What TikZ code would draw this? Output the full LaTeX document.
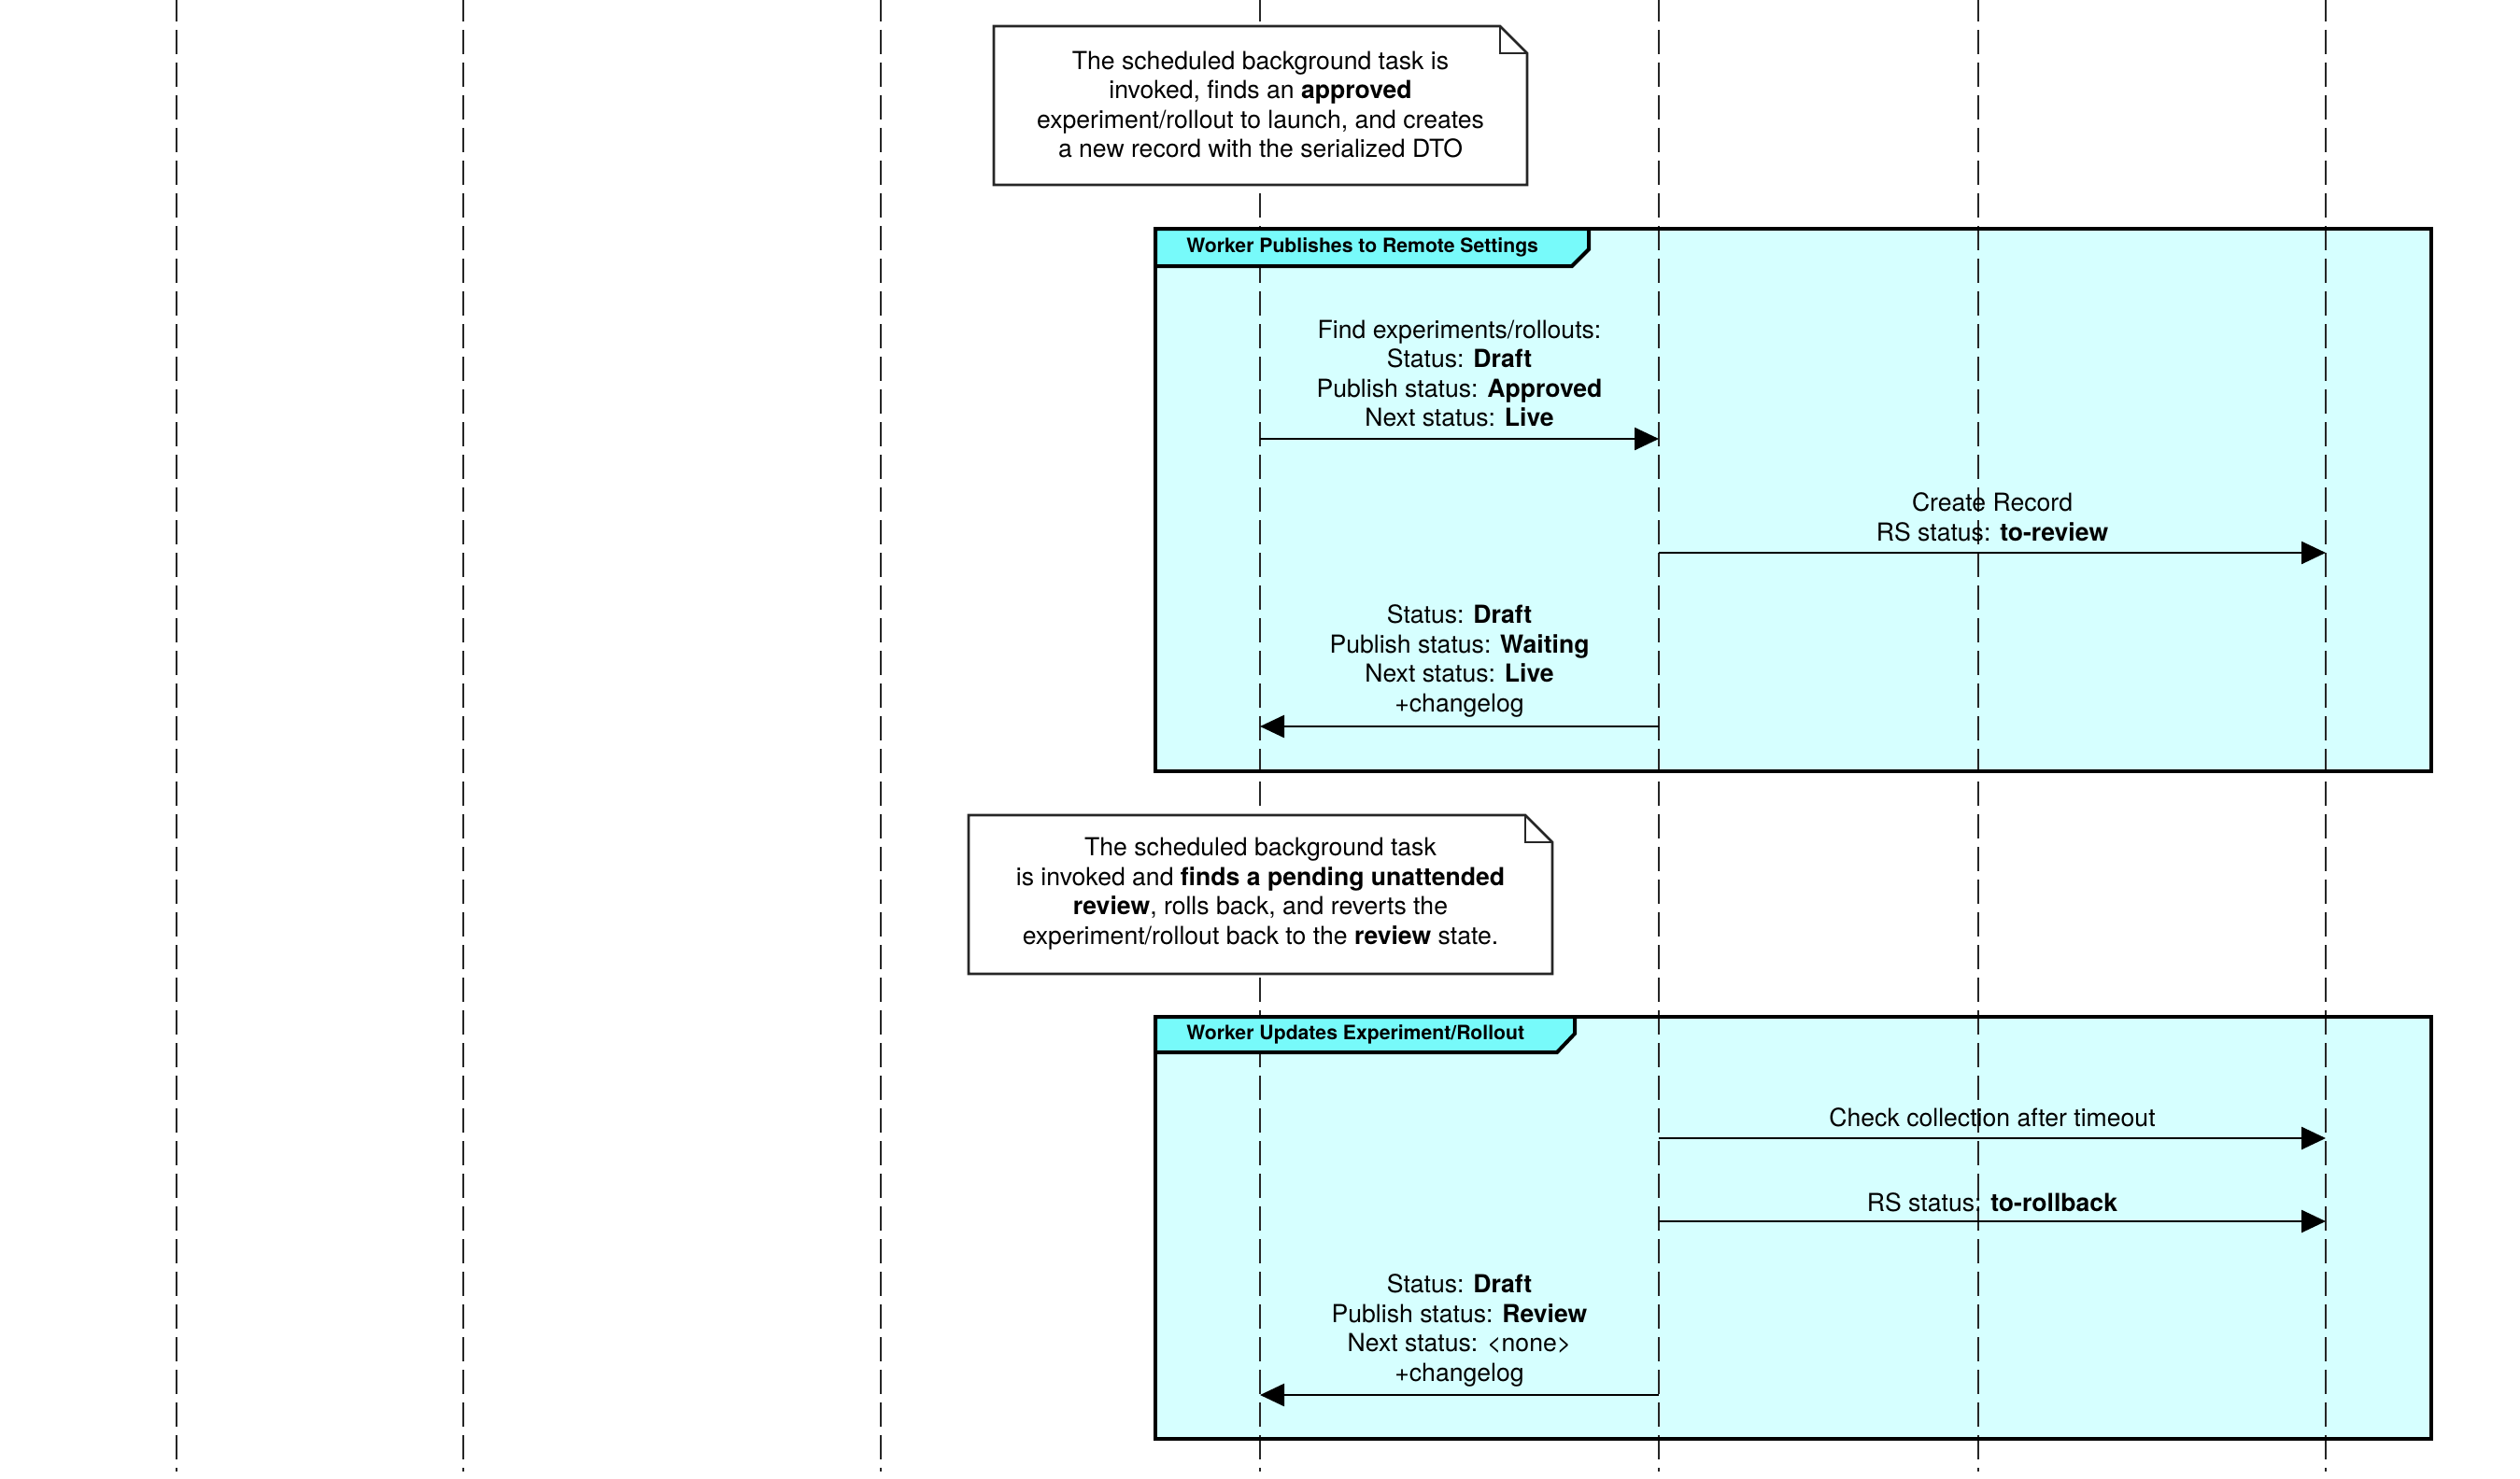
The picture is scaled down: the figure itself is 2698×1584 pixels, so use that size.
\documentclass[tikz,border=0pt]{standalone}
\usepackage{fontspec}
\setmainfont{TeX Gyre Heros}
\usetikzlibrary{arrows.meta}
\definecolor{grpfill}{HTML}{D6FFFF}
\definecolor{tabfill}{HTML}{77FAFA}
\tikzset{
 lifeline/.style={line width=1.3pt, dash pattern=on 13pt off 4.5pt, dash phase=1.5pt, draw=black!85},
 grpframe/.style={line width=2pt, draw=black},
 grpbg/.style={fill=grpfill},
 grptab/.style={fill=tabfill, draw=black, line width=2pt},
 tablabel/.style={font=\fontsize{10.6}{12}\selectfont\bfseries, anchor=west, inner sep=0pt},
 notebox/.style={fill=white, draw=black!85, line width=1.3pt},
 txt/.style={font=\fontsize{13.3}{15.75}\selectfont, align=center, inner sep=0pt},
 msg/.style={line width=1.25pt, -{Triangle[length=13pt,width=12pt]}},
}
\begin{document}
\begin{tikzpicture}[x=0.5pt,y=-0.5pt]
\useasboundingbox (0,0) rectangle (2698,1584);
% group backgrounds
\path[grpbg] (1237,245) rectangle (2603,826);
\path[grpbg] (1237,1089) rectangle (2603,1541);
% lifelines
\foreach \n/\x in {1/189,2/496,3/943,4/1349,5/1776,6/2118,7/2490} {
  \coordinate (top\n) at (\x,0);
  \coordinate (bot\n) at (\x,1576);
  \draw[lifeline] (top\n) -- (bot\n);
}
% group frames
\draw[grpframe] (1237,245) rectangle (2603,826);
\draw[grpframe] (1237,1089) rectangle (2603,1541);
\draw[grptab] (1237,245) -- (1701,245) -- (1701,267) -- (1683,285) -- (1237,285) -- cycle;
\node[tablabel] (g1) at (1270,265) {Worker Publishes to Remote Settings};
\draw[grptab] (1237,1089) -- (1686,1089) -- (1686,1107) -- (1667,1127) -- (1237,1127) -- cycle;
\node[tablabel] (g2) at (1270,1108) {Worker Updates Experiment/Rollout};
% note 1
\draw[notebox] (1064,28) -- (1606,28) -- (1635,57) -- (1635,198) -- (1064,198) -- cycle;
\draw[notebox, fill=none] (1606,28) -- (1606,57) -- (1635,57);
\node[txt] (n1) at (1349.5,112) {The scheduled background task is\\invoked, finds an \textbf{approved}\\experiment/rollout to launch, and creates\\a new record with the serialized DTO};
% note 2
\draw[notebox] (1037,873) -- (1633,873) -- (1662,902) -- (1662,1043) -- (1037,1043) -- cycle;
\draw[notebox, fill=none] (1633,873) -- (1633,902) -- (1662,902);
\node[txt] (n2) at (1349.5,957) {The scheduled background task\\is invoked and \textbf{finds a pending unattended}\\\textbf{review}, rolls back, and reverts the\\experiment/rollout back to the \textbf{review} state.};
% messages group 1
\coordinate (m1a) at (1349,470); \coordinate (m1b) at (1776,470);
\draw[msg] (m1a) -- (m1b);
\node[txt] (l1) at (1562.5,400) {Find experiments/rollouts:\\Status: \textbf{Draft}\\Publish status: \textbf{Approved}\\Next status: \textbf{Live}};
\coordinate (m2a) at (1776,592); \coordinate (m2b) at (2490,592);
\draw[msg] (m2a) -- (m2b);
\node[txt] (l2) at (2133,554) {Create Record\\RS status: \textbf{to-review}};
\coordinate (m3a) at (1776,778); \coordinate (m3b) at (1349,778);
\draw[msg] (m3a) -- (m3b);
\node[txt] (l3) at (1562.5,708) {Status: \textbf{Draft}\\Publish status: \textbf{Waiting}\\Next status: \textbf{Live}\\+changelog};
% messages group 2
\coordinate (m4a) at (1776,1219); \coordinate (m4b) at (2490,1219);
\draw[msg] (m4a) -- (m4b);
\node[txt] (l4) at (2133,1197) {Check collection after timeout};
\coordinate (m5a) at (1776,1308); \coordinate (m5b) at (2490,1308);
\draw[msg] (m5a) -- (m5b);
\node[txt] (l5) at (2133,1288) {RS status: \textbf{to-rollback}};
\coordinate (m6a) at (1776,1494); \coordinate (m6b) at (1349,1494);
\draw[msg] (m6a) -- (m6b);
\node[txt] (l6) at (1562.5,1425) {Status: \textbf{Draft}\\Publish status: \textbf{Review}\\Next status: <none>\\+changelog};
\end{tikzpicture}
\end{document}
